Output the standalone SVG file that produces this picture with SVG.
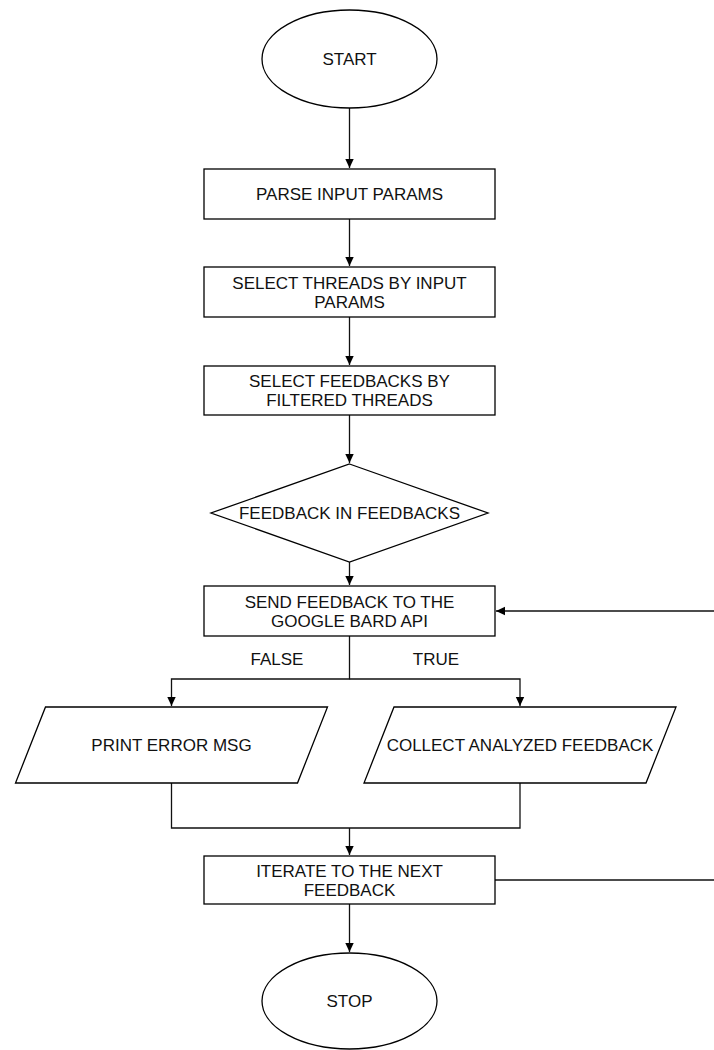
<svg xmlns="http://www.w3.org/2000/svg" width="714" height="1050" viewBox="0 0 714 1050">
<style>
.s{fill:#fff;stroke:#000;stroke-width:1.3}
.t{font-family:"Liberation Sans",Arial,sans-serif;font-size:17px;fill:#111;text-anchor:middle}
.c{fill:none;stroke:#111;stroke-width:1.3}
</style>
<defs>
<marker id="a" markerWidth="10" markerHeight="10" refX="9" refY="5" orient="auto" markerUnits="userSpaceOnUse"><path d="M0,0.8 L9,5 L0,9.2 Z" fill="#000"/></marker>
</defs>
<rect width="714" height="1050" fill="#fff"/>
<g id="connectors">
<path class="c" d="M349.5,108 V168" marker-end="url(#a)"/>
<path class="c" d="M349.5,219 V266" marker-end="url(#a)"/>
<path class="c" d="M349.5,317 V365" marker-end="url(#a)"/>
<path class="c" d="M349.5,415 V463" marker-end="url(#a)"/>
<path class="c" d="M349.5,562 V585" marker-end="url(#a)"/>
<path class="c" d="M349.5,636 V679 H171.5 V706" marker-end="url(#a)"/>
<path class="c" d="M349.5,679 H520 V706" marker-end="url(#a)"/>
<path class="c" d="M171.5,783 V828 H520 V783"/>
<path class="c" d="M349.5,828 V855" marker-end="url(#a)"/>
<path class="c" d="M349.5,904 V952" marker-end="url(#a)"/>
<path class="c" d="M495,880 H714"/>
<path class="c" d="M714,611 H496" marker-end="url(#a)"/>
<text class="t" x="277" y="665">FALSE</text>
<text class="t" x="436" y="665">TRUE</text>
</g>
<g id="start">
<ellipse class="s" cx="349.5" cy="59" rx="87.5" ry="49"/>
<text class="t" x="349.5" y="65">START</text>
</g>
<g id="parse">
<rect class="s" x="204" y="169" width="291" height="50"/>
<text class="t" x="349.5" y="200">PARSE INPUT PARAMS</text>
</g>
<g id="selectThreads">
<rect class="s" x="204" y="267" width="291" height="50"/>
<text class="t" x="349.5" y="288.5">SELECT THREADS BY INPUT</text>
<text class="t" x="349.5" y="307.5">PARAMS</text>
</g>
<g id="selectFeedbacks">
<rect class="s" x="204" y="366" width="291" height="49"/>
<text class="t" x="349.5" y="387">SELECT FEEDBACKS BY</text>
<text class="t" x="349.5" y="406">FILTERED THREADS</text>
</g>
<g id="decision">
<polygon class="s" points="349.5,464 488,513 349.5,562 211,513"/>
<text class="t" x="349.5" y="519">FEEDBACK IN FEEDBACKS</text>
</g>
<g id="send">
<rect class="s" x="204" y="586" width="291" height="50"/>
<text class="t" x="349.5" y="607.5">SEND FEEDBACK TO THE</text>
<text class="t" x="349.5" y="626.5">GOOGLE BARD API</text>
</g>
<g id="printError">
<polygon class="s" points="45.5,707 327.5,707 297.5,783 15.5,783"/>
<text class="t" x="171.5" y="751">PRINT ERROR MSG</text>
</g>
<g id="collect">
<polygon class="s" points="394,707 676,707 646,783 364,783"/>
<text class="t" x="520" y="751">COLLECT ANALYZED FEEDBACK</text>
</g>
<g id="iterate">
<rect class="s" x="204" y="856" width="291" height="48"/>
<text class="t" x="349.5" y="877">ITERATE TO THE NEXT</text>
<text class="t" x="349.5" y="896">FEEDBACK</text>
</g>
<g id="stop">
<ellipse class="s" cx="349.5" cy="1001" rx="87.5" ry="48"/>
<text class="t" x="349.5" y="1007">STOP</text>
</g>
</svg>
